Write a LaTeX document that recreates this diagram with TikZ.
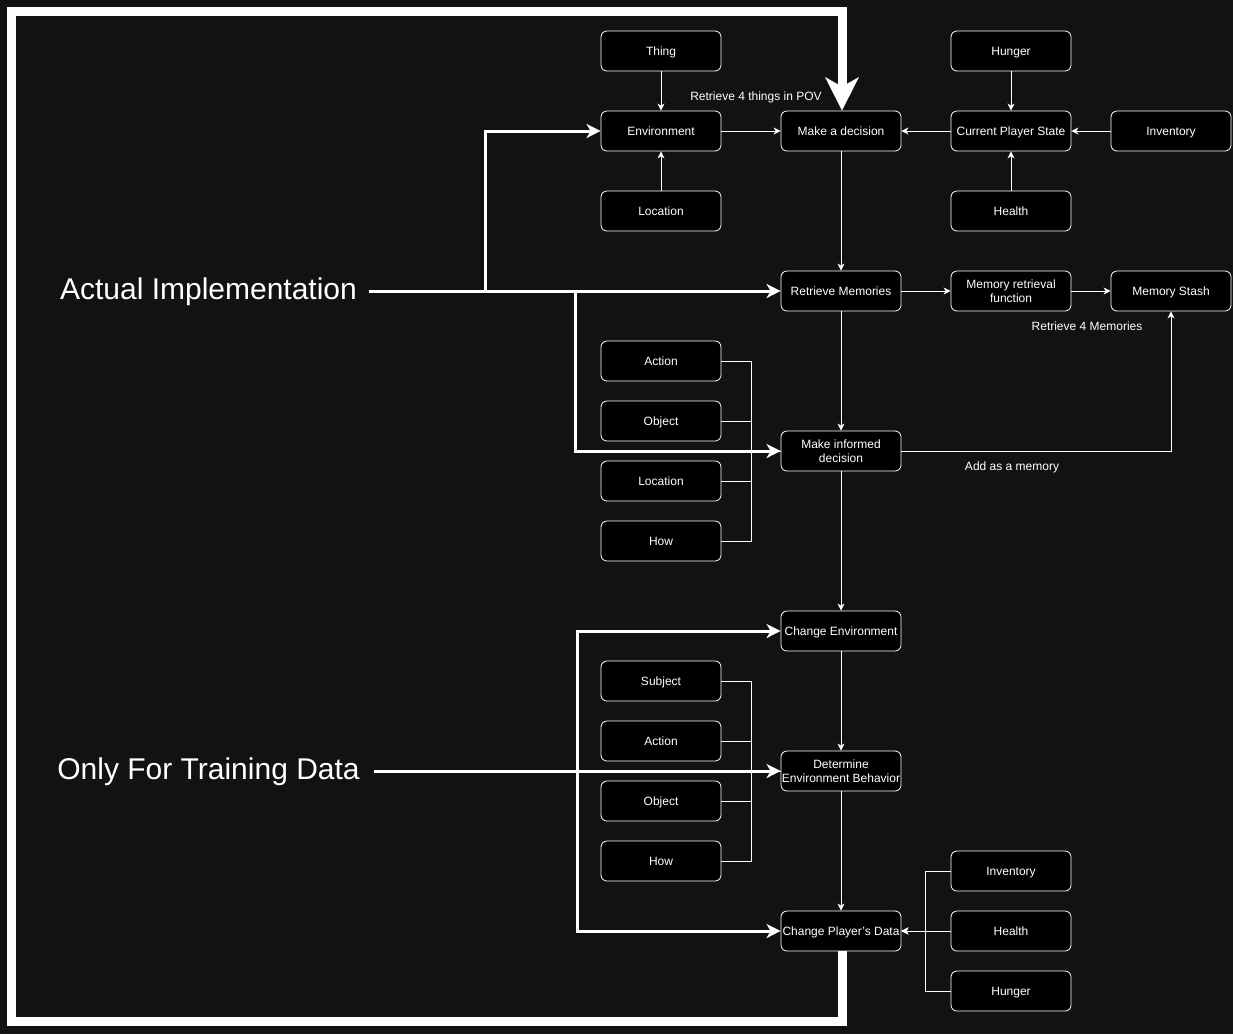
\documentclass[tikz,border=0pt]{standalone}
\usepackage{fontspec}
\setmainfont{Liberation Sans}
\usetikzlibrary{arrows.meta}
\definecolor{bgdark}{HTML}{121212}
\newcommand{\nodefont}{\fontsize{12}{13.5}\selectfont}
\newcommand{\bigfont}{\fontsize{30}{34}\selectfont}
\begin{document}
\begin{tikzpicture}[x=1pt,y=-1pt,
  boxbase/.style={draw=white, fill=black, rounded corners=6pt, minimum width=120pt, minimum height=40pt,
    inner sep=0pt, align=center, font=\nodefont, text=white, line width=0.8pt},
  box/.style={boxbase, text height=11pt, text depth=2.4pt},
  boxtwo/.style={boxbase},
  lbl/.style={font=\nodefont, text=white, inner sep=0pt, text height=11pt, text depth=2.4pt},
  biglbl/.style={font=\bigfont, text=white, inner sep=0pt, anchor=base},
  wire/.style={draw=white, line width=1pt},
  wirearr/.style={wire, -{Stealth[length=7pt,width=7pt,inset=2pt]}},
  bigline/.style={draw=white, line width=3pt},
  bigarr/.style={bigline, -{Stealth[length=14pt,width=14pt,inset=4pt]}},
  hugeline/.style={draw=white, line width=9pt, line join=miter, -{Stealth[length=33pt,width=33pt,inset=9pt]}}
]
\useasboundingbox (0,0) rectangle (1233,1034);
\fill[bgdark] (0,0) rectangle (1233,1034);

% top block
\node[box] (thing) at (661,51) {Thing};
\node[box] (env) at (661,131) {Environment};
\node[box] (loc1) at (661,211) {Location};
\node[box] (mad) at (841,131) {Make a decision};
\node[box] (hun1) at (1011,51) {Hunger};
\node[box] (cps) at (1011,131) {Current Player State};
\node[box] (hea1) at (1011,211) {Health};
\node[box] (inv1) at (1171,131) {Inventory};

% memory block
\node[box] (rm) at (841,291) {Retrieve Memories};
\node[boxtwo] (mrf) at (1011,291) {Memory retrieval\\function};
\node[box] (ms) at (1171,291) {Memory Stash};

\node[box] (act1) at (661,361) {Action};
\node[box] (obj1) at (661,421) {Object};
\node[box] (loc2) at (661,481) {Location};
\node[box] (how1) at (661,541) {How};
\node[boxtwo] (mid) at (841,451) {Make informed\\decision};

% training block
\node[box] (ce) at (841,631) {Change Environment};
\node[box] (sub2) at (661,681) {Subject};
\node[box] (act2) at (661,741) {Action};
\node[box] (obj2) at (661,801) {Object};
\node[box] (how2) at (661,861) {How};
\node[boxtwo] (deb) at (841,771) {Determine\\Environment Behavior};
\node[box] (cpd) at (841,931) {Change Player\symbol{"27}s Data};
\node[box] (inv2) at (1011,871) {Inventory};
\node[box] (hea2) at (1011,931) {Health};
\node[box] (hun2) at (1011,991) {Hunger};

% labels
\node[lbl] (l1) at (756,96) {Retrieve 4 things in POV};
\node[lbl] (l2) at (1087,326) {Retrieve 4 Memories};
\node[lbl] (l3) at (1012,466) {Add as a memory};
\node[biglbl] (ai) at (208.5,299) {Actual Implementation};
\node[biglbl] (otd) at (208.5,779) {Only For Training Data};

% thin connectors
\draw[wirearr] (thing) -- (env);
\draw[wirearr] (loc1) -- (env);
\draw[wirearr] (env) -- (mad);
\draw[wirearr] (cps) -- (mad);
\draw[wirearr] (hun1) -- (cps);
\draw[wirearr] (hea1) -- (cps);
\draw[wirearr] (inv1) -- (cps);
\draw[wirearr] (mad) -- (rm);
\draw[wirearr] (rm) -- (mrf);
\draw[wirearr] (mrf) -- (ms);
\draw[wirearr] (rm) -- (mid);
\draw[wirearr] (mid.east) -| (ms.south);
\draw[wirearr] (mid) -- (ce);
\draw[wirearr] (ce) -- (deb);
\draw[wirearr] (deb) -- (cpd);

\foreach \n in {act1,obj1,loc2,how1}
  \draw[wire] (\n.east) -- ++(30,0) |- (mid.west);
\foreach \n in {sub2,act2,obj2,how2}
  \draw[wire] (\n.east) -- ++(30,0) |- (deb.west);
\foreach \n in {inv2,hea2,hun2}
  \draw[wirearr] (\n.west) -- ++(-25,0) |- (cpd.east);

% thick connectors
\coordinate (s1) at (369,291);
\coordinate (j1) at (485,291);
\coordinate (j2) at (575,291);
\draw[bigarr] (s1) -- (rm.west);
\draw[bigarr] (j1) |- (env.west);
\draw[bigarr] (j2) |- (mid.west);

\coordinate (s2) at (374,771);
\coordinate (j3) at (577,771);
\draw[bigarr] (s2) -- (deb.west);
\draw[bigarr] (j3) |- (ce.west);
\draw[bigarr] (j3) |- (cpd.west);

% outer loop
\coordinate (c1) at (842,1021.5);
\coordinate (c2) at (11.5,1021.5);
\coordinate (c3) at (11.5,11.5);
\coordinate (c4) at (842,11.5);
\draw[hugeline] ([xshift=1pt]cpd.south) -- (c1) -- (c2) -- (c3) -- (c4) -- ([xshift=1pt]mad.north);
\end{tikzpicture}
\end{document}
